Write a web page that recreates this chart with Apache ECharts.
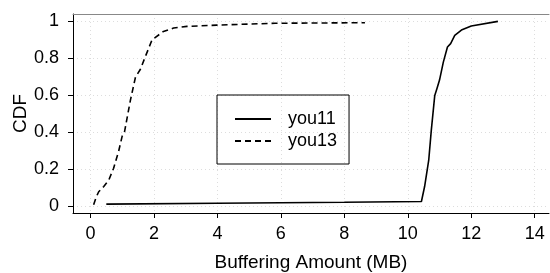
<!DOCTYPE html>
<html>
<head>
<meta charset="utf-8">
<script src="https://cdn.jsdelivr.net/npm/echarts@6/dist/echarts.min.js"></script>
<style>
  html, body { margin: 0; padding: 0; background: #fff; }
  #chart { width: 550px; height: 273px; }
</style>
</head>
<body>
<div id="chart"></div>
<script>
// ticks
const xTicks = [0, 2, 4, 6, 8, 10, 12, 14]
const yTicks = [0, 0.2, 0.4, 0.6, 0.8, 1]

// you11 CDF (MB, fraction)
const you11 = [
  [0.5, 0.013], [4, 0.018], [8, 0.023], [10.43, 0.027], [10.53, 0.108],
  [10.66, 0.25], [10.74, 0.41], [10.85, 0.6], [10.92, 0.638], [11.0, 0.683],
  [11.12, 0.78], [11.25, 0.862], [11.35, 0.88], [11.48, 0.925], [11.69, 0.953],
  [12.0, 0.975], [12.84, 1.0]
]

// you13 CDF
const you13 = [
  [0.1, 0.01], [0.18, 0.05], [0.26, 0.08], [0.42, 0.108], [0.58, 0.144],
  [0.73, 0.207], [0.89, 0.3], [1.0, 0.38], [1.07, 0.4], [1.26, 0.575],
  [1.42, 0.7], [1.57, 0.74], [1.73, 0.81], [1.94, 0.9], [2.3, 0.946],
  [2.62, 0.964], [3.04, 0.973], [3.98, 0.98], [5.82, 0.99], [8.65, 0.993]
]

const FONT = 'Liberation Sans'

var chart = echarts.init(document.getElementById('chart'))
var option = {
  backgroundColor: '#fff',
  animation: false,
  textStyle: { fontFamily: FONT },
  grid: { left: 73, right: 1, top: 14, bottom: 60, containLabel: false, outerBoundsMode: 'none' },
  legend: {
    orient: 'vertical',
    left: 217,
    top: 95,
    padding: [15, 12, 14, 17],
    itemWidth: 36,
    itemHeight: 14,
    itemGap: 4,
    borderColor: '#000',
    borderWidth: 1,
    itemStyle: { opacity: 0 },
    textStyle: { fontFamily: FONT, fontSize: 18, color: '#000', padding: [0, 0, 0, 12] },
    data: ['you11', 'you13']
  },
  xAxis: [
    {
      type: 'value',
      min: -0.55,
      max: 14.45,
      name: 'Buffering Amount (MB)',
      nameLocation: 'middle',
      nameGap: 40,
      nameTextStyle: { fontFamily: FONT, fontSize: 19, color: '#000' },
      axisLine: { show: true, onZero: false, lineStyle: { color: '#000', width: 1 } },
      axisTick: { show: true, length: 5, customValues: xTicks, lineStyle: { color: '#000' } },
      axisLabel: { customValues: xTicks, margin: 12, fontSize: 18, color: '#000', fontFamily: FONT },
      splitLine: { show: true, lineStyle: { color: '#ddd', type: [1, 3] } }
    },
    {
      type: 'value',
      position: 'top',
      min: -0.55,
      max: 14.45,
      axisLine: { show: true, onZero: false, lineStyle: { color: '#888', width: 1 } },
      axisTick: { show: false },
      axisLabel: { show: false },
      splitLine: { show: false }
    }
  ],
  yAxis: {
    type: 'value',
    min: -0.035,
    max: 1.04,
    name: 'CDF',
    nameLocation: 'middle',
    nameGap: 43,
    nameMoveOverlap: false,
    nameTextStyle: { fontFamily: FONT, fontSize: 19, color: '#000' },
    axisLine: { show: true, onZero: false, lineStyle: { color: '#000', width: 1 } },
    axisTick: { show: true, length: 5, customValues: yTicks, lineStyle: { color: '#000' } },
    axisLabel: { customValues: yTicks, margin: 14, fontSize: 18, color: '#000', fontFamily: FONT },
    splitLine: { show: true, lineStyle: { color: '#ddd', type: [1, 3] } }
  },
  series: [
    {
      name: 'you11',
      type: 'line',
      symbol: 'none',
      data: you11,
      lineStyle: { color: '#000', width: 1.6 },
      itemStyle: { color: '#000' }
    },
    {
      name: 'you13',
      type: 'line',
      symbol: 'none',
      data: you13,
      lineStyle: { color: '#000', width: 1.6, type: [6, 4] },
      itemStyle: { color: '#000' }
    }
  ]
}
chart.setOption(option)
</script>
</body>
</html>
